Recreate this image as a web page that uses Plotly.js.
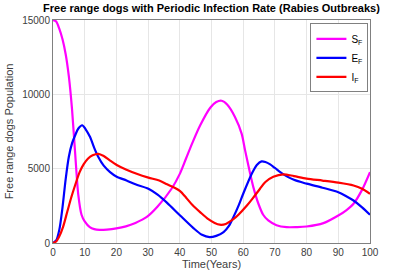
<!DOCTYPE html>
<html><head><meta charset="utf-8">
<script src="https://cdn.plot.ly/plotly-3.0.1.min.js"></script>
<style>body{margin:0;background:#fff}#c{width:409px;height:273px}</style>
</head><body><div id="c"></div>
<script>
const tS = [0,1,2,3,4,5,6,7,8,9,10,11.6,13,14.7,17,20,23,26,29.6,33,37.4,40,42,44,46.4,49.6,51.5,53.2,55,57.4,59.5,60.6,62.2,63.2,64.8,66.3,67.9,70.5,73.7,77,80,85.3,90,92.5,94.8,97.4,100];
const S  = [15000,14900,14400,13700,12700,11200,9000,6000,3200,1900,1450,1065,930,880,900,980,1120,1350,1750,2450,3650,4650,5700,6750,7900,9100,9480,9570,9300,8480,7360,6230,4660,3760,2640,1900,1516,1200,1065,1070,1110,1335,1850,2200,2640,3540,4770];
const tE = [0,1,2,3,4,5,6,7,8,9.2,10.3,11.7,13,14.3,16,18,20.1,23.2,26,30.1,33,36,40.1,44.3,47,49.4,51.5,53.8,55.5,56.9,58.5,60,62.7,64.3,65.8,67,68.5,70,72.7,76,80,85,90,92.5,94.8,97.5,100];
const E  = [0,170,900,2400,4300,5800,6700,7250,7700,7920,7650,7130,6400,5780,5200,4770,4460,4210,3950,3650,3250,2700,1850,1000,550,390,480,730,1150,1740,2500,3315,4660,5250,5490,5450,5290,5050,4620,4250,3990,3720,3420,3150,2860,2400,1900];
const tI = [0,1,2,3.15,4.5,5.8,7,8.4,9.7,11,12.5,14.3,16,17.9,20.1,23,26.4,30.1,33.5,36,38.5,40.1,42,44,46.4,49,51,52.6,54.5,56.9,58.5,61.1,63,65.3,67,69.5,72.7,76,80,85,90,94.8,97.5,100];
const I  = [0,100,450,1065,2100,3090,3900,4770,5300,5670,5900,6000,5850,5560,5250,4950,4660,4400,4200,3950,3700,3490,3050,2550,2075,1600,1350,1230,1280,1600,1900,2500,3000,3650,4100,4450,4620,4500,4330,4200,4060,3870,3650,3310];
const xticks = [0,10,20,30,40,50,60,70,80,90,100];
const yticks = [0,5000,10000,15000];

const traces = [
  {x:tS,y:S,name:'S<sub>F</sub>',mode:'lines',line:{color:'#ff00ff',width:2.2,shape:'spline',smoothing:0.8}},
  {x:tE,y:E,name:'E<sub>F</sub>',mode:'lines',line:{color:'#0000ff',width:2.2,shape:'spline',smoothing:0.8}},
  {x:tI,y:I,name:'I<sub>F</sub>',mode:'lines',line:{color:'#ff0000',width:2.2,shape:'spline',smoothing:0.8}}
];
const axcommon = {showline:true,mirror:true,linecolor:'#808080',linewidth:1,showgrid:true,gridcolor:'#e6e6e6',zeroline:false,ticks:'',tickfont:{family:'Liberation Sans, Arial',size:10,color:'#404040'}};
const layout = {
  width:409,height:273,
  margin:{l:53,r:39,t:20,b:30},
  paper_bgcolor:'#fff',plot_bgcolor:'#fff',
  font:{family:'Liberation Sans, Arial',color:'#404040'},
  title:{text:'<b>Free range dogs with Periodic Infection Rate (Rabies Outbreaks)</b>',font:{family:'Liberation Sans, Arial',size:11,color:'#000'},x:0.5,xanchor:'center',y:0.985,yanchor:'top',xref:'paper'},
  xaxis:Object.assign({},axcommon,{range:[0,100],tickvals:xticks,ticktext:xticks.map(String),title:{text:'Time(Years)',font:{size:11,color:'#404040'},standoff:2}}),
  yaxis:Object.assign({},axcommon,{range:[0,15000],tickvals:yticks,ticktext:yticks.map(String),title:{text:'Free range dogs Population',font:{size:11,color:'#404040'},standoff:6}}),
  legend:{x:0.995,xanchor:'right',y:0.985,yanchor:'top',bgcolor:'#fff',bordercolor:'#808080',borderwidth:1,font:{size:10,color:'#000'},tracegroupgap:0,itemwidth:30},
  showlegend:true
};
Plotly.newPlot('c',traces,layout,{displayModeBar:false,staticPlot:true});
</script></body></html>
